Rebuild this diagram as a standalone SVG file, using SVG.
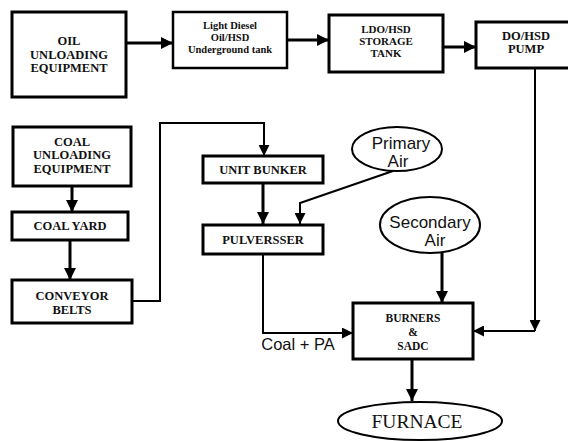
<svg xmlns="http://www.w3.org/2000/svg" width="568" height="441" viewBox="0 0 568 441">
<defs>
<marker id="ah" viewBox="0 0 10 10" refX="10" refY="5" markerWidth="4" markerHeight="4" markerUnits="strokeWidth" orient="auto"><path d="M0,0L10,5L0,10z" fill="#000"/></marker>
<marker id="ahs" viewBox="0 0 10 10" refX="10" refY="5" markerWidth="5.5" markerHeight="5.5" markerUnits="strokeWidth" orient="auto"><path d="M0,0L10,5L0,10z" fill="#000"/></marker>
</defs>
<style>
.box{fill:#fff;stroke:#000;stroke-width:3}
.bx2{fill:#fff;stroke:#000;stroke-width:2.5}
.ell{fill:#fff;stroke:#000;stroke-width:2}
.t{font-family:"Liberation Serif","Times New Roman",serif;font-weight:bold;text-anchor:middle;fill:#111}
.s{font-family:"Liberation Sans",Arial,sans-serif;text-anchor:middle;fill:#111}
.c{fill:none;stroke:#000;stroke-width:3}
.cs{fill:none;stroke:#000;stroke-width:2}
</style>
<rect width="568" height="441" fill="#fff"/>
<g id="connectors">
<line class="c" x1="126" y1="43" x2="173" y2="43" marker-end="url(#ah)"/>
<line class="c" x1="287" y1="40" x2="329" y2="40" marker-end="url(#ah)"/>
<line class="c" x1="443" y1="47" x2="476" y2="47" marker-end="url(#ah)"/>
<polyline class="cs" points="535,68 535,331" marker-end="url(#ahs)"/>
<polyline class="cs" points="535,331 473,331" marker-end="url(#ahs)"/>
<line class="c" x1="72" y1="186" x2="72" y2="212" marker-end="url(#ah)"/>
<line class="c" x1="70" y1="240" x2="70" y2="280" marker-end="url(#ah)"/>
<polyline class="cs" points="132,301 160,301 160,123 264,123 264,156" marker-end="url(#ahs)"/>
<line class="c" x1="263" y1="183" x2="263" y2="224" marker-end="url(#ah)"/>
<polyline class="cs" points="393,171 300,203 300,224" marker-end="url(#ahs)"/>
<line class="c" x1="442" y1="253" x2="442" y2="303" marker-end="url(#ah)"/>
<polyline class="cs" points="263,254 263,333 353,333" marker-end="url(#ahs)"/>
<line class="c" x1="412" y1="359" x2="412" y2="401" marker-end="url(#ah)"/>
</g>
<g id="oil-unloading">
<rect class="box" x="12" y="12" width="114" height="85"/>
<text class="t" font-size="12.5" x="69"><tspan x="69" y="45">OIL</tspan><tspan x="69" y="58.5">UNLOADING</tspan><tspan x="69" y="72">EQUIPMENT</tspan></text>
</g>
<g id="light-diesel">
<rect class="bx2" x="173" y="12" width="114" height="56"/>
<text class="t" font-size="10.5" x="230"><tspan x="230" y="29">Light Diesel</tspan><tspan x="230" y="41">Oil/HSD</tspan><tspan x="230" y="53">Underground tank</tspan></text>
</g>
<g id="ldo-storage">
<rect class="box" x="329" y="15" width="114" height="57"/>
<text class="t" font-size="11" x="386"><tspan x="386" y="33">LDO/HSD</tspan><tspan x="386" y="45">STORAGE</tspan><tspan x="386" y="57">TANK</tspan></text>
</g>
<g id="pump">
<rect class="box" x="476" y="22" width="96" height="46"/>
<text class="t" font-size="12.5" x="526"><tspan x="526" y="40">DO/HSD</tspan><tspan x="526" y="53">PUMP</tspan></text>
</g>
<g id="coal-unloading">
<rect class="box" x="13" y="127" width="118" height="59"/>
<text class="t" font-size="12.5" x="72"><tspan x="72" y="145.5">COAL</tspan><tspan x="72" y="159">UNLOADING</tspan><tspan x="72" y="173">EQUIPMENT</tspan></text>
</g>
<g id="coal-yard">
<rect class="box" x="12" y="212" width="116" height="28"/>
<text class="t" font-size="12.5" x="70" y="230">COAL YARD</text>
</g>
<g id="conveyor">
<rect class="box" x="12" y="280" width="120" height="43"/>
<text class="t" font-size="12.5" x="72"><tspan x="72" y="300">CONVEYOR</tspan><tspan x="72" y="314">BELTS</tspan></text>
</g>
<g id="unit-bunker">
<rect class="box" x="203" y="156" width="120" height="27"/>
<text class="t" font-size="12.5" x="263" y="174">UNIT BUNKER</text>
</g>
<g id="pulverser">
<rect class="box" x="203" y="225" width="120" height="29"/>
<text class="t" font-size="12.5" x="263" y="244">PULVERSSER</text>
</g>
<g id="primary-air">
<ellipse class="ell" cx="397" cy="149" rx="45" ry="22"/>
<text class="s" font-size="17" x="399"><tspan x="401" y="149">Primary</tspan><tspan x="398" y="167">Air</tspan></text>
</g>
<g id="secondary-air">
<ellipse class="ell" cx="430" cy="225" rx="50" ry="28"/>
<text class="s" font-size="17" x="430"><tspan x="430" y="228">Secondary</tspan><tspan x="435" y="246">Air</tspan></text>
</g>
<g id="burners">
<rect class="box" x="353" y="303" width="120" height="56"/>
<text class="t" font-size="11.5" x="413"><tspan x="413" y="322">BURNERS</tspan><tspan x="413" y="336">&amp;</tspan><tspan x="413" y="350">SADC</tspan></text>
</g>
<text class="s" font-size="16.5" x="298" y="350">Coal + PA</text>
<g id="furnace">
<ellipse class="ell" cx="420" cy="421" rx="82" ry="19"/>
<text font-family="Liberation Serif,'Times New Roman',serif" font-size="19.5" text-anchor="middle" fill="#111" x="417" y="428">FURNACE</text>
</g>
</svg>
